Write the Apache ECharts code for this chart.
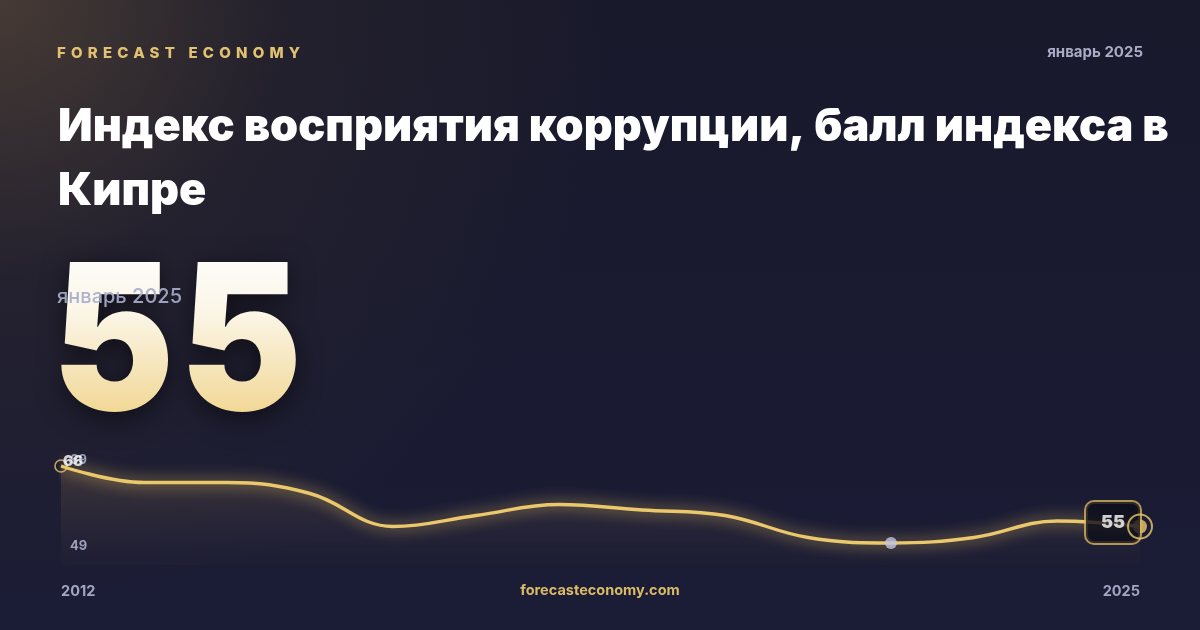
<!DOCTYPE html>
<html>
<head>
<meta charset="utf-8">
<script src="https://cdn.jsdelivr.net/npm/echarts@6/dist/echarts.min.js"></script>
<style>
  html, body { margin: 0; padding: 0; background: #16172b; }
  #wrap { position: relative; width: 1200px; height: 630px; overflow: hidden;
          background:
            radial-gradient(circle at 0 0, rgba(78,64,54,0.85) 0px, rgba(52,44,46,0.4) 280px, rgba(30,30,50,0) 620px),
            linear-gradient(180deg, #18192b 0%, #1b1c36 100%); }
  #big { position: absolute; left: 52px; top: 234px; z-index: 0; margin: 0; padding-right: 30px;
         font-family: Inter, sans-serif; font-weight: 900; font-size: 204px; line-height: 1;
         letter-spacing: 6px; white-space: nowrap;
         transform: scaleX(0.9); transform-origin: 0 0;
         background: linear-gradient(180deg, #fdfcf8 0%, #fbf5e6 35%, #f2d896 100%);
         background-position: 0 28px; background-size: 100% 150px; background-repeat: no-repeat;
         -webkit-background-clip: text; background-clip: text; color: transparent;
         filter: drop-shadow(0 6px 14px rgba(0,0,0,0.55)); }
  #chart { position: absolute; left: 0; top: 0; width: 1200px; height: 630px; z-index: 1; }
  #brand { position: absolute; left: 57px; top: 43px; z-index: 2; font-family: Inter, sans-serif; font-weight: 800;
           font-size: 15px; letter-spacing: 5.2px; color: #e2c272; line-height: 20px; }
</style>
</head>
<body>
<div id="wrap">
  <div id="big"></div>
  <div id="chart"></div>
  <div id="brand">FORECAST ECONOMY</div>
</div>
<script>
const years = ['2012','2013','2014','2015','2016','2017','2018','2019','2020','2021','2022','2023','2024','2025'];
const values = [66, 63, 63, 61, 55, 57, 59, 58, 57, 53, 52, 53, 56, 55];
const yTickLabels = ['69', '49'];
const titleLines = ['Индекс восприятия коррупции, балл индекса в', 'Кипре'];
const periodText = 'январь 2025';
const headlineValue = '55';
const siteText = 'forecasteconomy.com';

document.getElementById('big').textContent = headlineValue;

const GOLD = '#ecc86c';
const lastIdx = values.length - 1;
let minIdx = 0;
values.forEach((v, i) => { if (v < values[minIdx]) minIdx = i; });

const chart = echarts.init(document.getElementById('chart'), null, { renderer: 'canvas', width: 1200, height: 630 });

const option = {
  animation: false,
  backgroundColor: 'transparent',
  title: {
    text: titleLines.join('\n'),
    left: 53,
    top: 90,
    textStyle: {
      color: '#ffffff', fontFamily: 'Inter', fontWeight: 900, fontSize: 45, lineHeight: 64
    }
  },
  grid: { left: 61, right: 60, top: 444, bottom: 65 },
  xAxis: {
    type: 'category', data: years, boundaryGap: false,
    axisLine: { show: false }, axisTick: { show: false }, splitLine: { show: false },
    axisLabel: {
      interval: (idx) => idx === 0 || idx === lastIdx,
      showMinLabel: true, showMaxLabel: true,
      alignMinLabel: 'left', alignMaxLabel: 'right',
      margin: 19, color: '#a3a6c2', fontFamily: 'Inter', fontWeight: 700, fontSize: 14.5
    }
  },
  yAxis: { type: 'value', min: 48, max: 70, show: false },
  graphic: [
    {
      type: 'text', right: 57, top: 45, z: 5,
      style: { text: periodText, fill: '#a9acc7', font: '700 15px Inter' }
    },
    {
      type: 'text', left: 57, top: 287, z: 6,
      style: { text: periodText, fill: 'rgba(168,172,202,0.92)', font: '500 20px Inter' }
    },
    {
      type: 'text', left: 70, top: 454, z: 3,
      style: { text: yTickLabels[0], fill: '#9c9fbc', font: '700 13px Inter' }
    },
    {
      type: 'text', left: 70, top: 540, z: 3,
      style: { text: yTickLabels[1], fill: '#9c9fbc', font: '700 13px Inter' }
    },
    {
      type: 'text', left: 'center', top: 583, z: 5,
      style: { text: siteText, fill: '#dcbb66', font: '700 14.5px Inter' }
    }
  ],
  series: [
    {
      type: 'line', data: values, smooth: 0.4, showSymbol: false, z: 2,
      lineStyle: { color: GOLD, width: 3.4, shadowColor: 'rgba(245,205,100,0.95)', shadowBlur: 15 },
      areaStyle: {
        color: new echarts.graphic.LinearGradient(0, 0, 0, 1, [
          { offset: 0, color: 'rgba(190,150,90,0.28)' },
          { offset: 1, color: 'rgba(120,100,80,0.04)' }
        ])
      }
    },
    {
      type: 'scatter', z: 4,
      data: [[0, values[0]]],
      symbol: 'circle', symbolSize: 12,
      itemStyle: { color: 'rgba(0,0,0,0)', borderColor: GOLD, borderWidth: 1.6 },
      label: {
        show: true, position: 'inside', offset: [12, -5],
        formatter: (p) => String(p.value[1]),
        color: '#ffffff', fontFamily: 'Inter', fontWeight: 900, fontSize: 15
      }
    },
    {
      type: 'scatter', z: 4,
      data: [[minIdx, values[minIdx]]],
      symbol: 'circle', symbolSize: 12,
      itemStyle: { color: '#c4c7de' }
    },
    {
      type: 'scatter', z: 5,
      data: [[lastIdx, values[lastIdx]]],
      symbol: 'circle', symbolSize: 14,
      itemStyle: { color: GOLD },
      label: {
        show: true, position: 'left', distance: -7, offset: [0, -4],
        formatter: (p) => String(p.value[1]),
        color: '#ffffff', fontFamily: 'Inter', fontWeight: 900, fontSize: 18,
        backgroundColor: '#0d0e1a', borderColor: '#d8b560', borderWidth: 2, borderRadius: 8,
        padding: [12, 15, 11, 15]
      }
    },
    {
      type: 'scatter', z: 6, silent: true,
      data: [[lastIdx, values[lastIdx]]],
      symbol: 'circle', symbolSize: 24,
      itemStyle: { color: 'rgba(0,0,0,0)', borderColor: GOLD, borderWidth: 2 }
    }
  ]
};
chart.setOption(option);
</script>
</body>
</html>
